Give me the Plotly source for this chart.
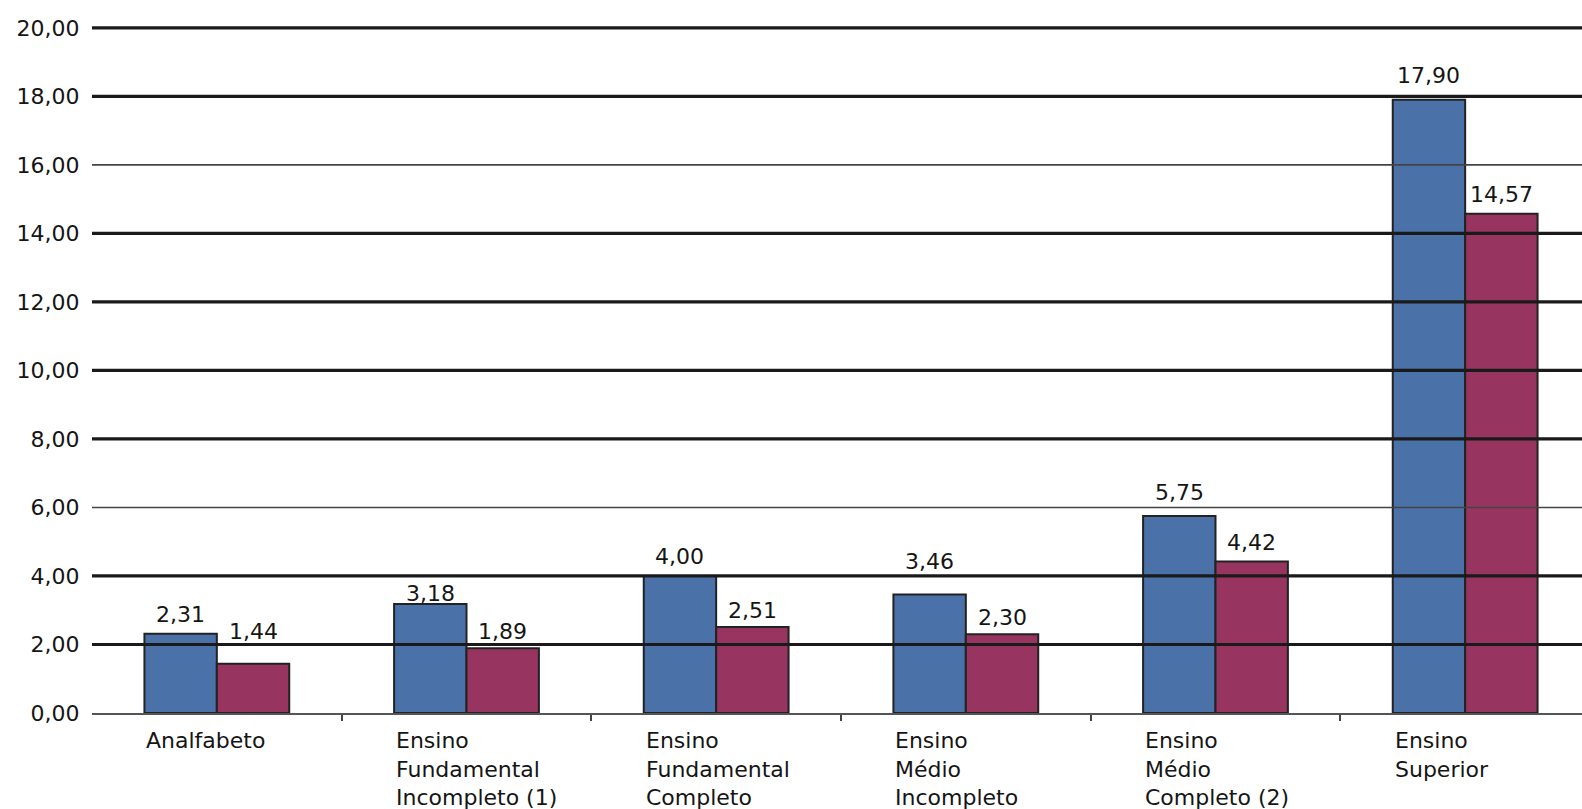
import plotly.graph_objects as go

# ---- data ----
categories = [
    "Analfabeto",
    "Ensino<br>Fundamental<br>Incompleto (1)",
    "Ensino<br>Fundamental<br>Completo",
    "Ensino<br>Médio<br>Incompleto",
    "Ensino<br>Médio<br>Completo (2)",
    "Ensino<br>Superior",
]
serie_a = [2.31, 3.18, 4.00, 3.46, 5.75, 17.90]
serie_b = [1.44, 1.89, 2.51, 2.30, 4.42, 14.57]
y_ticks = [0, 2, 4, 6, 8, 10, 12, 14, 16, 18, 20]

# ---- styles ----
BLUE = "#4A71A8"
WINE = "#97345F"
EDGE = "#222222"
FONT = "DejaVu Sans"
TXT = "#151515"
# pixel lift of each value label above its bar (label placement in the original varies)
lift_a = [19, 11, 19, 33, 24, 24]
lift_b = [32, 17, 17, 17, 19, 19]
# gridline widths per tick (scan shows thinner lines at 6 and 16)
grid_w = {2: 3.2, 4: 3.2, 6: 1.6, 8: 3.2, 10: 3.2, 12: 3.2, 14: 3.2, 16: 1.6, 18: 3.2, 20: 3.2}

idx = list(range(len(categories)))
fig = go.Figure()
fig.add_bar(x=idx, y=serie_a, name="Série 1", marker=dict(color=BLUE, line=dict(color=EDGE, width=2)))
fig.add_bar(x=idx, y=serie_b, name="Série 2", marker=dict(color=WINE, line=dict(color=EDGE, width=2)))

half = 0.29 / 2
annotations = []
for i, (a, b) in enumerate(zip(serie_a, serie_b)):
    annotations.append(dict(x=i - half, y=a, xref="x", yref="y", text=f"{a:.2f}".replace(".", ","),
                            showarrow=False, yanchor="middle", xanchor="center", yshift=lift_a[i],
                            font=dict(family=FONT, size=22, color=TXT)))
    annotations.append(dict(x=i + half, y=b, xref="x", yref="y", text=f"{b:.2f}".replace(".", ","),
                            showarrow=False, yanchor="middle", xanchor="center", yshift=lift_b[i],
                            font=dict(family=FONT, size=22, color=TXT)))
for i, c in enumerate(categories):
    annotations.append(dict(x=i - 0.29, y=0, xref="x", yref="y", text=c, showarrow=False,
                            xanchor="left", yanchor="top", align="left", yshift=-13,
                            font=dict(family=FONT, size=22, color=TXT)))

shapes = []
for v in y_ticks:
    if v == 0:
        continue
    shapes.append(dict(type="line", xref="paper", x0=0, x1=1, yref="y", y0=v, y1=v, layer="above",
                       line=dict(color="#1a1a1a" if grid_w[v] > 2 else "#444", width=grid_w[v])))

fig.update_layout(
    width=1582, height=809,
    margin=dict(l=92, r=0, t=21, b=96),
    plot_bgcolor="white", paper_bgcolor="white",
    barmode="group", bargap=0.42, bargroupgap=0,
    showlegend=False,
    separators=",.",
    annotations=annotations,
    shapes=shapes,
    font=dict(family=FONT, size=22, color=TXT),
)
fig.update_xaxes(
    type="linear", range=[-0.5, 5.468], showgrid=False, zeroline=False,
    showline=True, linecolor="#555", linewidth=2,
    tickmode="array", tickvals=[i + 0.5 for i in idx[:-1]], ticktext=["" for _ in idx[:-1]],
    ticks="outside", ticklen=6, tickwidth=1.5, tickcolor="#444",
)
fig.update_yaxes(
    range=[0, 20.2], tickmode="array", tickvals=y_ticks, tickformat=".2f",
    showgrid=False, zeroline=False, showline=False,
    ticks="outside", ticklen=7, tickcolor="rgba(0,0,0,0)",
    tickfont=dict(family=FONT, size=22, color=TXT),
)

fig.write_html("out.html")
